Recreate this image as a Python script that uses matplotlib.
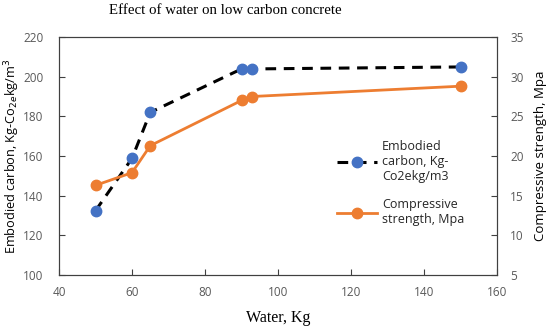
import matplotlib
matplotlib.use("Agg")
import matplotlib.pyplot as plt

water = [50, 60, 65, 90, 93, 150]
embodied_carbon = [132.4, 158.8, 182.0, 203.9, 203.9, 204.9]
compressive_strength = [16.3, 17.9, 21.3, 27.0, 27.5, 28.8]

x_ticks = [40, 60, 80, 100, 120, 140, 160]
left_ticks = [100, 120, 140, 160, 180, 200, 220]
right_ticks = [5, 10, 15, 20, 25, 30, 35]

sans = "Open Sans"
serif = "Liberation Serif"
gray = "#595959"

fig = plt.figure(figsize=(5.5, 3.27), dpi=100)
ax = fig.add_axes([59/550, 1-275/327, (497-59)/550, (275-37)/327])
ax2 = ax.twinx()

l1, = ax.plot(water, embodied_carbon, color="black", linestyle=(0, (3.5, 2.5)), linewidth=2.2,
              marker="o", markersize=7.5, markerfacecolor="#4472C4", markeredgecolor="#4472C4",
              label="Embodied\ncarbon, Kg-\nCo2ekg/m3", zorder=3)
l2, = ax2.plot(water, compressive_strength, color="#ED7D31", linewidth=2,
               marker="o", markersize=7.5, label="Compressive\nstrength, Mpa", zorder=3)

ax.set_xlim(40, 160)
ax.set_ylim(100, 220)
ax2.set_ylim(5, 35)
ax.set_xticks(x_ticks)
ax.set_yticks(left_ticks)
ax2.set_yticks(right_ticks)

for a in (ax, ax2):
    a.tick_params(direction="in", length=4, width=0.8, colors="#404040", labelcolor=gray, labelsize=8.5)
    for lab in a.get_xticklabels() + a.get_yticklabels():
        lab.set_fontfamily(sans)
    for s in a.spines.values():
        s.set_color("#404040")
ax.tick_params(axis="x", pad=8)
ax.tick_params(axis="y", pad=11)
ax2.tick_params(axis="y", pad=9.5)

ax.set_xlabel("Water, Kg", fontfamily=serif, fontsize=11.5, labelpad=8)
ax.set_ylabel("Embodied carbon, Kg-Co$_{2e}$kg/m$^3$", fontfamily=sans, fontsize=9.2, labelpad=1)
ax2.set_ylabel("Compressive strength, Mpa", fontfamily=sans, fontsize=9.5, labelpad=7)
fig.text(225/550, 1-11/327, "Effect of water on low carbon concrete", ha="center", va="center",
         fontfamily=serif, fontsize=10.7)

leg = ax.legend(handles=[l1, l2], loc="upper left", bbox_to_anchor=((337-59)/438, 1-(140-37)/238),
                frameon=False, prop={"family": sans, "size": 9}, handlelength=3.2,
                labelspacing=1.2, borderaxespad=0, borderpad=0, handletextpad=0.4)
for t in leg.get_texts():
    t.set_color("#262626")

fig.savefig("out.png", dpi=100)
